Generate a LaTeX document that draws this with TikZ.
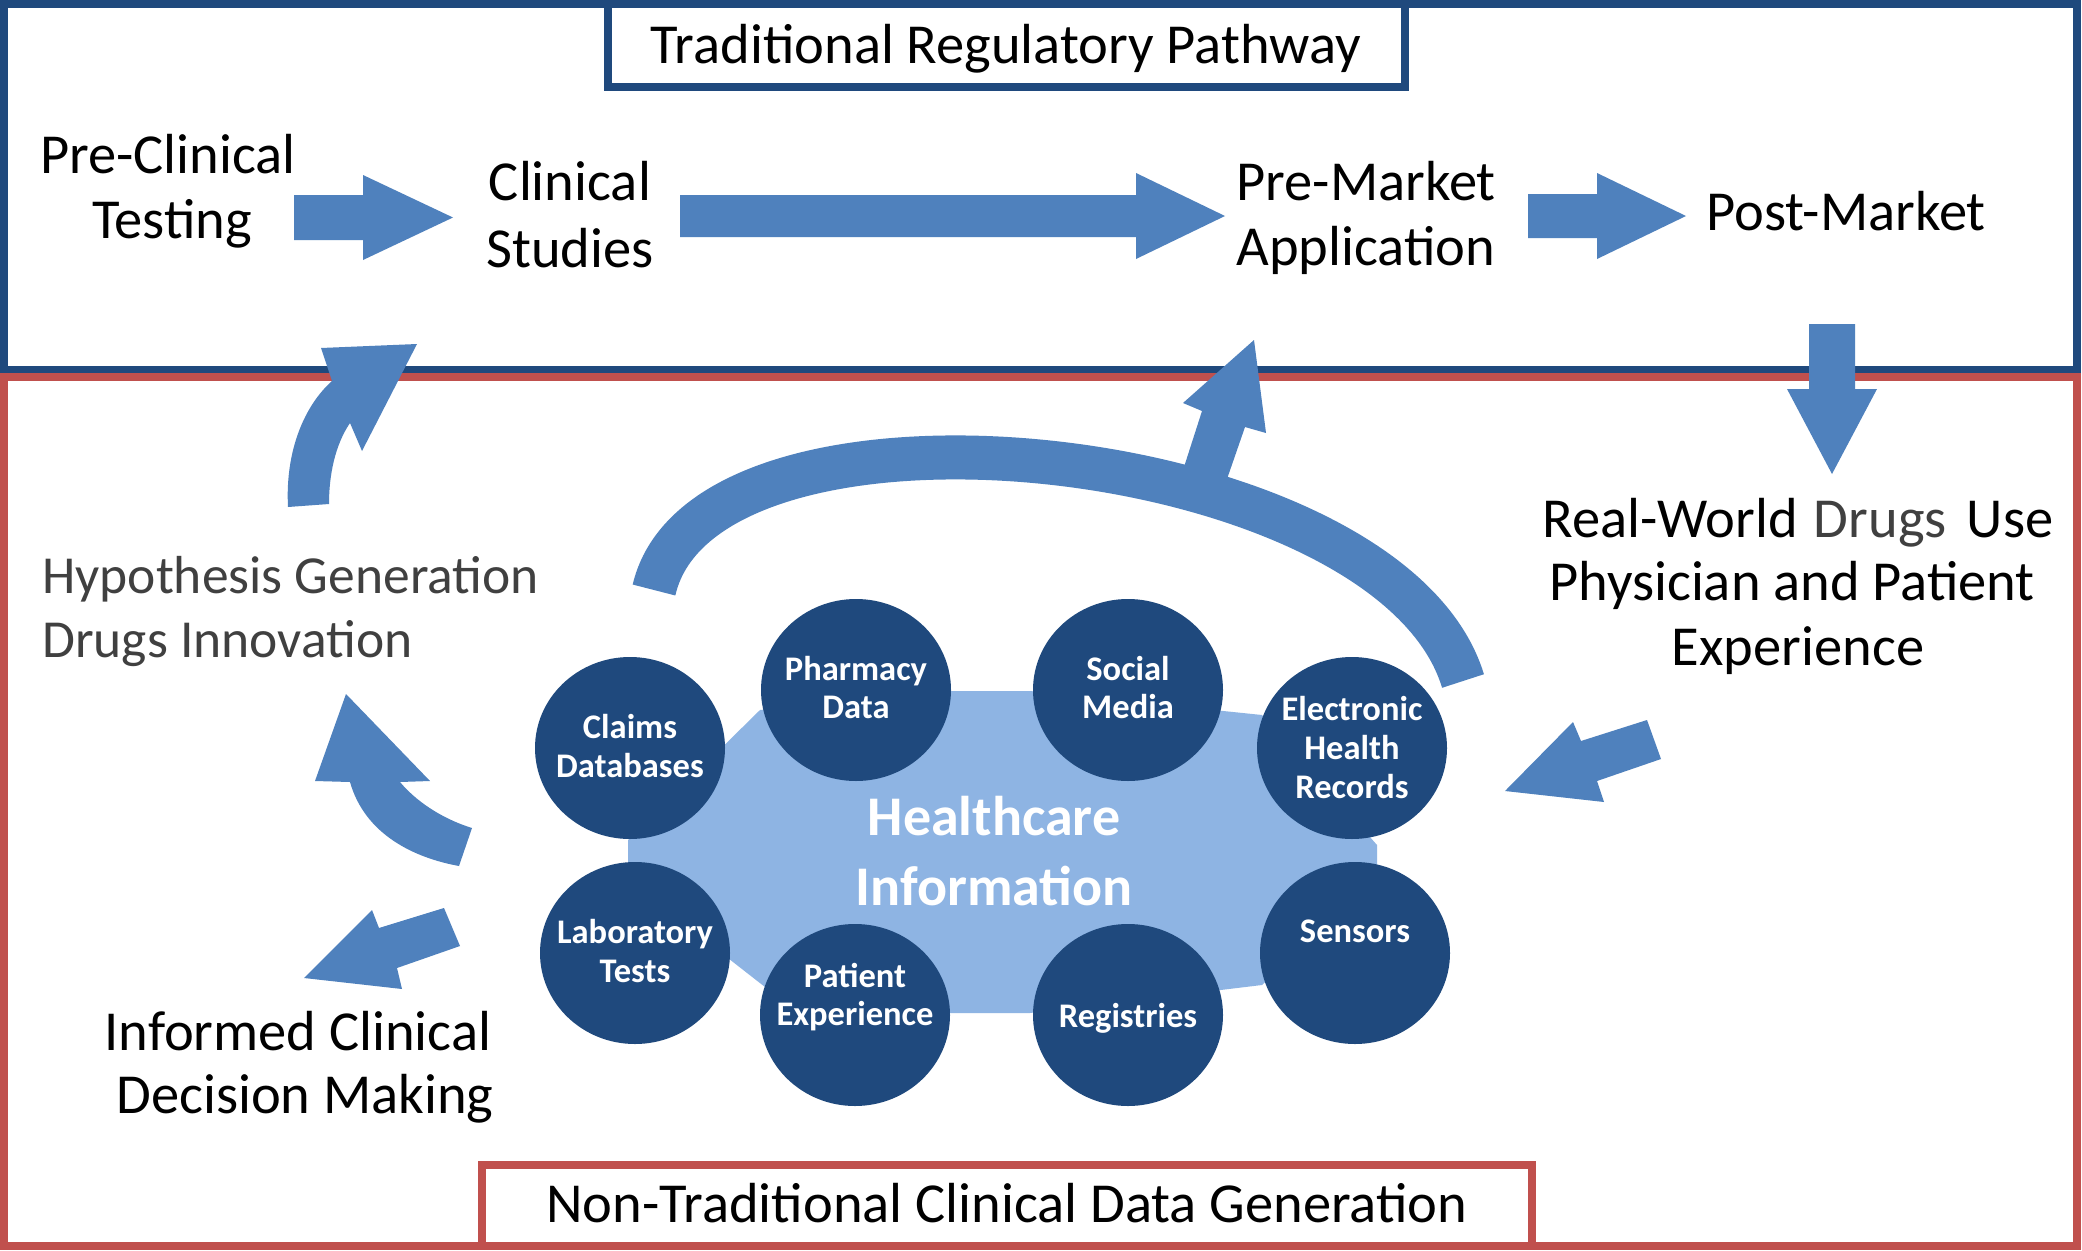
\documentclass[tikz,border=0pt]{standalone}
\usepackage{fontspec}
\setmainfont{Carlito}
\usetikzlibrary{shapes.geometric}
\definecolor{dkblue}{HTML}{1F497D}
\definecolor{arrowblue}{HTML}{4F81BD}
\definecolor{redb}{HTML}{C0504D}
\definecolor{lightfill}{HTML}{8EB4E3}
\definecolor{greytext}{HTML}{404040}
\begin{document}
\begin{tikzpicture}[x=1pt,y=-1pt,
  lbl/.style={anchor=base, inner sep=0pt, font=\fontsize{56.5}{66}\selectfont},
  glbl/.style={anchor=base west, inner sep=0pt, text=greytext, font=\fontsize{53.5}{64}\selectfont},
  ctxt/.style={anchor=base, inner sep=0pt, text=white, font=\fontsize{34.5}{40}\selectfont\bfseries},
  bigtxt/.style={anchor=base, inner sep=0pt, text=white, font=\fontsize{56}{66}\selectfont\bfseries},
  circ/.style={ellipse, fill=dkblue, minimum width=190pt, minimum height=182pt, inner sep=0pt},
  blk/.style={fill=arrowblue},
  bluebox/.style={draw=dkblue, line width=8pt},
  redbox/.style={draw=redb, line width=8pt},
]
\useasboundingbox (0,0) rectangle (2082,1250);
\fill[white] (0,0) rectangle (2082,1250);

% outer frames
\draw[bluebox] (4,4) rectangle (2077,370);
\draw[redbox] (4,377) rectangle (2077,1246);
\draw[bluebox, fill=white] (608,4) rectangle (1405,87);
\draw[redbox, fill=white] (482,1165) rectangle (1532,1246);
\node[lbl] (ttop) at (1006,63) {Traditional Regulatory Pathway};
\node[lbl] (tbot) at (1007,1222) {Non-Traditional Clinical Data Generation};

% top row labels
\node[lbl] (pc1) at (168,173) {Pre-Clinical};
\node[lbl] (pc2) at (172,238) {Testing};
\node[lbl] (cs1) at (570,200) {Clinical};
\node[lbl] (cs2) at (570,267) {Studies};
\node[lbl] (pm1) at (1366,200) {Pre-Market};
\node[lbl] (pm2) at (1366,265) {Application};
\node[lbl] (post) at (1846,230) {Post-Market};

% side labels
\node[glbl] (hy1) at (42,593) {Hypothesis Generation};
\node[glbl] (hy2) at (42,657) {Drugs Innovation};
\node[lbl] (rw1) at (1798,537) {Real-World\hspace{16pt}\textcolor{greytext}{Drugs}\hspace{20pt}Use};
\node[lbl] (rw2) at (1792,600) {Physician and Patient};
\node[lbl] (rw3) at (1798,665) {Experience};
\node[lbl] (ic1) at (298,1050) {Informed Clinical};
\node[lbl] (ic2) at (305,1113) {Decision Making};

% healthcare information hub
\fill[lightfill] (628,840) -- (760,710) -- (950,691) -- (1030,691) -- (1262,715)
  -- (1377,845) -- (1377,880) -- (1262,985) -- (1030,1013) -- (950,1013)
  -- (765,987) -- (628,880) -- cycle;
\node[bigtxt] (hc1) at (994,835) {Healthcare};
\node[bigtxt] (hc2) at (994,905) {Information};

\node[circ] (claims) at (630,748) {};
\node[circ] (pharm) at (856,690) {};
\node[circ] (social) at (1128,690) {};
\node[circ] (ehr) at (1352,748) {};
\node[circ] (lab) at (635,953) {};
\node[circ] (patexp) at (855,1015) {};
\node[circ] (reg) at (1128,1015) {};
\node[circ] (sens) at (1355,953) {};

\node[ctxt] (t1a) at (630,738) {Claims};
\node[ctxt] (t1b) at (630,777) {Databases};
\node[ctxt] (t2a) at (856,680) {Pharmacy};
\node[ctxt] (t2b) at (856,718) {Data};
\node[ctxt] (t3a) at (1128,680) {Social};
\node[ctxt] (t3b) at (1128,718) {Media};
\node[ctxt] (t4a) at (1352,720) {Electronic};
\node[ctxt] (t4b) at (1352,759) {Health};
\node[ctxt] (t4c) at (1352,798) {Records};
\node[ctxt] (t5a) at (635,943) {Laboratory};
\node[ctxt] (t5b) at (635,982) {Tests};
\node[ctxt] (t6a) at (855,987) {Patient};
\node[ctxt] (t6b) at (855,1025) {Experience};
\node[ctxt] (t7) at (1128,1027) {Registries};
\node[ctxt] (t8) at (1355,942) {Sensors};

% straight block arrows
\fill[blk] (294,195) -- (363,195) -- (363,175) -- (453,217.5) -- (363,260) -- (363,240) -- (294,240) -- cycle;
\fill[blk] (680,195) -- (1136,195) -- (1136,173) -- (1225,216) -- (1136,259) -- (1136,237) -- (680,237) -- cycle;
\fill[blk] (1528,194) -- (1597,194) -- (1597,173) -- (1686,216) -- (1597,259) -- (1597,238) -- (1528,238) -- cycle;
\fill[blk] (1809,324) -- (1855,324) -- (1855,389) -- (1877,389) -- (1832,474) -- (1787,389) -- (1809,389) -- cycle;
% into EHR
\fill[blk] (1647,720) -- (1581,741) -- (1573,722) -- (1505,791) -- (1604,802) -- (1597,781) -- (1661,759) -- cycle;
% to informed decision
\fill[blk] (444,908) -- (379,928) -- (372,910) -- (304,978) -- (402,989) -- (397,968) -- (460,946) -- cycle;

% curved arrow to hypothesis
\fill[blk] (315,781) -- (346,694) -- (430,781) -- (400,782)
  .. controls (415,800) and (440,818) .. (472,828) -- (459,866)
  .. controls (415,858) and (365,835) .. (350,782) -- cycle;
% curved arrow to clinical studies
\fill[blk] (288,507) .. controls (285,450) and (305,405) .. (332,381)
  -- (321,348) -- (417,344) -- (362,451) -- (350,423)
  .. controls (335,445) and (329,475) .. (329,504) -- cycle;

% big arc with branch to pre-market
\draw[arrowblue, line width=44pt] (654,590) .. controls (705,370) and (1390,440) .. (1463,681);
\fill[blk] (1175,495) -- (1202,411) -- (1183,403) -- (1254,340) -- (1266,433) -- (1245,427) -- (1218,505) -- cycle;
\end{tikzpicture}
\end{document}
